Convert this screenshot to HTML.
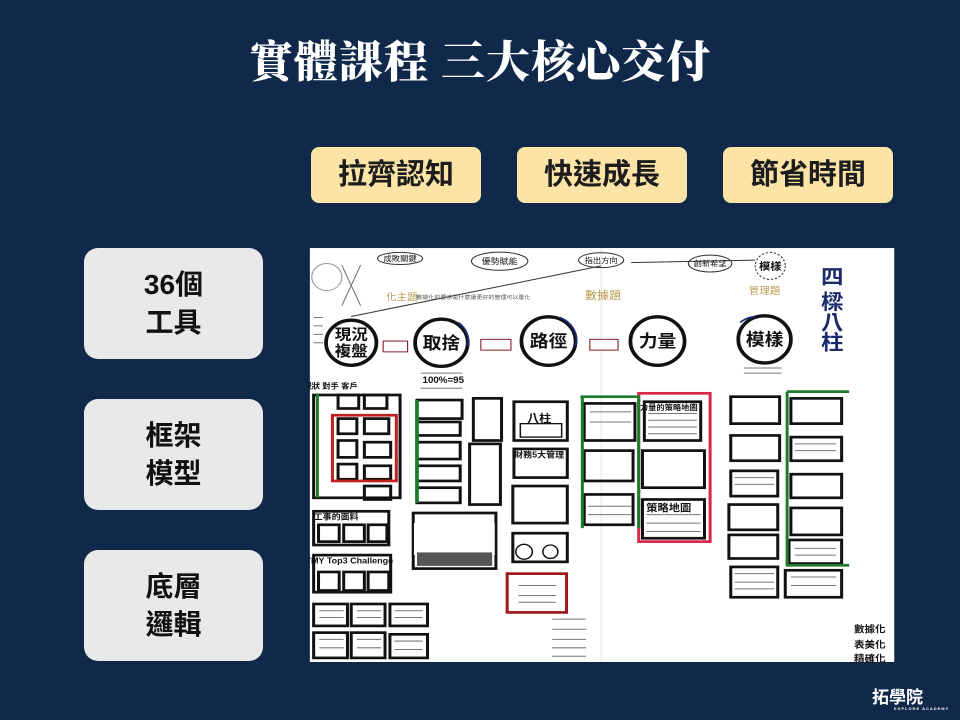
<!DOCTYPE html>
<html><head><meta charset="utf-8"><style>
html,body{margin:0;padding:0}
body{width:960px;height:720px;background:#10284a;position:relative;overflow:hidden;font-family:"Liberation Sans","Noto Sans CJK TC",sans-serif}
.title{position:absolute;left:0;width:960px;top:26px;text-align:center;color:#fff;font-family:"Liberation Serif","Noto Serif CJK SC",serif;font-weight:900;font-size:44px;letter-spacing:1px}
.tag{position:absolute;top:147px;width:170px;height:56px;background:#fbe4a6;border-radius:8px;color:#1d1d1d;font-weight:700;font-size:29px;line-height:56px;text-align:center}
.side{position:absolute;left:84px;width:179px;height:111px;background:#e9e9e9;border-radius:14px;color:#111;font-weight:700;font-size:28px;line-height:38px;display:flex;align-items:center;justify-content:center;text-align:center}
.logo{position:absolute;left:872px;top:683px;color:#fff;font-weight:700;font-size:17px}
.logo small{display:block;font-size:4px;letter-spacing:1px;margin-left:22px;margin-top:-2px}
</style></head><body>
<div class="title">實體課程 三大核心交付</div>
<div class="tag" style="left:311px">拉齊認知</div>
<div class="tag" style="left:517px">快速成長</div>
<div class="tag" style="left:723px">節省時間</div>
<div class="side" style="top:248px">36個<br>工具</div>
<div class="side" style="top:399px">框架<br>模型</div>
<div class="side" style="top:550px">底層<br>邏輯</div>
<svg style="position:absolute;left:308px;top:245px" width="590" height="420" viewBox="0 0 1570 1246" preserveAspectRatio="none">
<rect x="5" y="9" width="1555" height="1228" fill="#fff"/>
<line x1="780" y1="10" x2="780" y2="1237" stroke="#ddd" stroke-width="2"/>
<g fill="none" stroke="#333" stroke-width="3">
<ellipse cx="245" cy="40" rx="60" ry="18"/><ellipse cx="510" cy="48" rx="75" ry="27"/><ellipse cx="780" cy="45" rx="60" ry="22"/><ellipse cx="1070" cy="55" rx="58" ry="25"/>
<circle cx="1230" cy="62" r="40" stroke-dasharray="6 5"/>
<path d="M115,212 L780,62 M860,52 L1190,45"/>
<ellipse cx="50" cy="95" rx="40" ry="40" stroke="#999"/>
<path d="M90,60 L140,180 M140,60 L90,180" stroke="#777"/>
</g>
<g fill="none" stroke="#111" stroke-width="10">
<circle cx="115" cy="290" r="67"/><circle cx="355" cy="290" r="70"/><circle cx="640" cy="285" r="72"/><circle cx="930" cy="285" r="72"/><circle cx="1215" cy="280" r="70"/>
</g>
<g fill="none" stroke="#1a2a7a" stroke-width="5"><path d="M670,215 A72,72 0 0 1 712,300"/><path d="M1150,230 A70,70 0 0 1 1190,212"/><path d="M400,230 A70,70 0 0 1 425,300"/></g>
<g font-family="Liberation Sans,Noto Sans CJK TC,sans-serif" font-weight="700" fill="#111" text-anchor="middle">
<text x="115" y="280" font-size="44">現況</text><text x="115" y="330" font-size="44">複盤</text>
<text x="355" y="308" font-size="50">取捨</text><text x="640" y="303" font-size="50">路徑</text>
<text x="930" y="303" font-size="50">力量</text><text x="1215" y="298" font-size="50">模樣</text>
<text x="245" y="48" font-size="22" font-weight="400">成敗關鍵</text><text x="510" y="57" font-size="24" font-weight="400">優勢賦能</text><text x="780" y="53" font-size="22" font-weight="400">指出方向</text><text x="1070" y="63" font-size="22" font-weight="400">創新希望</text><text x="1230" y="74" font-size="30">模樣</text>
<text x="250" y="165" font-size="28" fill="#b89a50" font-weight="400">化主題</text><text x="785" y="160" font-size="32" fill="#b89a50" font-weight="400">數據題</text><text x="1215" y="145" font-size="28" fill="#b89a50" font-weight="400">管理題</text>
<text x="440" y="160" font-size="16" font-weight="400" fill="#555">數據化的要求是什麼讓更好的管理可以量化</text>
<text x="1395" y="115" font-size="60" fill="#1a2a6a">四</text><text x="1395" y="190" font-size="60" fill="#1a2a6a">樑</text><text x="1395" y="250" font-size="60" fill="#1a2a6a">八</text><text x="1395" y="310" font-size="60" fill="#1a2a6a">柱</text>
<text x="360" y="410" font-size="26">100%=95</text>
<text x="1495" y="1150" font-size="28">數據化</text><text x="1495" y="1195" font-size="28">表美化</text>
<text x="1495" y="1237" font-size="28">精確化</text>
<text x="615" y="525" font-size="32">八柱</text>
<text x="960" y="790" font-size="30">策略地圖</text>
<text x="960" y="490" font-size="22">力量的策略地圖</text>
<text x="615" y="630" font-size="24">財務5大管理</text>
<text x="375" y="880" font-size="28" font-weight="400" fill="#777">自由</text>
<text x="110" y="945" font-size="24">TMY Top3 Challenge</text>
<text x="75" y="815" font-size="24">工事的面料</text>
<text x="60" y="425" font-size="22">現狀  對手  客戶</text>
</g>
<g fill="#fff" stroke="#8a2030" stroke-width="3"><rect x="200" y="285" width="65" height="32"/><rect x="460" y="280" width="80" height="32"/><rect x="750" y="280" width="75" height="32"/></g>
<g fill="none" stroke="#111" stroke-width="8">
<rect x="15" y="445" width="230" height="305"/>
<rect x="80" y="515" width="50" height="45"/><rect x="150" y="515" width="65" height="45"/><rect x="80" y="580" width="50" height="50"/><rect x="150" y="585" width="70" height="45"/><rect x="80" y="650" width="50" height="45"/><rect x="150" y="655" width="70" height="40"/><rect x="80" y="445" width="55" height="40"/><rect x="150" y="445" width="60" height="40"/><rect x="150" y="715" width="70" height="40"/>
<rect x="290" y="460" width="120" height="55"/><rect x="290" y="525" width="115" height="40"/><rect x="290" y="585" width="115" height="50"/><rect x="290" y="655" width="115" height="45"/><rect x="290" y="720" width="115" height="45"/>
<rect x="280" y="795" width="220" height="165"/><rect x="440" y="455" width="75" height="125"/><rect x="430" y="590" width="82" height="180"/>
<rect x="548" y="465" width="142" height="115"/><rect x="548" y="605" width="142" height="85"/><rect x="545" y="715" width="145" height="110"/><rect x="545" y="855" width="145" height="85"/>
<rect x="735" y="470" width="135" height="110"/><rect x="735" y="610" width="130" height="90"/><rect x="735" y="740" width="130" height="90"/>
<rect x="895" y="465" width="150" height="115"/><rect x="890" y="610" width="165" height="110"/><rect x="890" y="755" width="165" height="115"/>
<rect x="1125" y="450" width="130" height="80"/><rect x="1125" y="565" width="130" height="75"/><rect x="1125" y="670" width="125" height="75"/><rect x="1120" y="770" width="130" height="75"/><rect x="1120" y="860" width="130" height="70"/><rect x="1125" y="955" width="125" height="90"/>
<rect x="1285" y="455" width="135" height="75"/><rect x="1285" y="570" width="135" height="70"/><rect x="1285" y="680" width="135" height="70"/><rect x="1285" y="780" width="135" height="80"/><rect x="1280" y="875" width="140" height="70"/><rect x="1270" y="965" width="150" height="80"/>
<rect x="15" y="790" width="200" height="100"/><rect x="28" y="830" width="55" height="50"/><rect x="95" y="830" width="55" height="50"/><rect x="160" y="830" width="50" height="50"/>
<rect x="15" y="920" width="205" height="110"/><rect x="28" y="970" width="55" height="55"/><rect x="95" y="970" width="55" height="55"/><rect x="160" y="970" width="55" height="55"/>
<rect x="15" y="1065" width="90" height="65"/><rect x="115" y="1065" width="90" height="65"/><rect x="218" y="1065" width="100" height="65"/>
<rect x="15" y="1150" width="90" height="75"/><rect x="115" y="1150" width="90" height="75"/><rect x="218" y="1155" width="100" height="70"/>
<rect x="565" y="530" width="110" height="40" stroke-width="4"/>
<circle cx="575" cy="910" r="22" stroke-width="4"/><circle cx="645" cy="910" r="20" stroke-width="4"/>
</g>
<rect x="282" y="825" width="215" height="95" fill="#fff"/><rect x="290" y="912" width="200" height="40" fill="#555"/>
<g fill="none" stroke-width="8"><rect x="65" y="505" width="170" height="195" stroke="#c02020"/>
<rect x="880" y="440" width="190" height="440" stroke="#d8284a"/><rect x="530" y="975" width="158" height="115" stroke="#a01818"/>
<path d="M25,440 V750 M730,450 V840 M725,450 H880 V840 M1275,435 V950 H1440 M1275,435 H1440" stroke="#1e7a2a"/>
<path d="M290,460 V765" stroke="#1e7a2a" stroke-width="10"/></g>
<g stroke="#777" stroke-width="3">
<path d="M300,380 H410 M300,425 H410 M1160,365 H1260 M1160,380 H1260 M560,1010 H660 M560,1040 H660 M560,1060 H660 M650,1110 H740 M650,1140 H740 M650,1170 H740 M650,1195 H740 M650,1220 H740 M30,1085 H95 M30,1105 H95 M130,1085 H195 M130,1105 H195 M230,1085 H305 M230,1105 H305 M30,1170 H95 M30,1195 H95 M130,1170 H195 M130,1195 H195 M230,1175 H305 M230,1200 H305 M1135,975 H1240 M1135,1000 H1240 M1135,1020 H1240 M1285,985 H1405 M1285,1010 H1405 M1295,590 H1405 M1295,610 H1405 M1135,690 H1240 M1135,710 H1240 M750,495 H860 M750,525 H860 M905,500 H1035 M905,520 H1035 M905,540 H1035 M905,560 H1035 M900,800 H1045 M900,825 H1045 M900,850 H1045 M745,775 H860 M745,800 H860 M15,215 H40 M15,240 H40 M15,265 H40 M15,290 H40 M1295,900 H1405 M1295,920 H1405"/>
</g>
</svg>
<div class="logo">拓學院<small>EXPLORE ACADEMY</small></div>
</body></html>
